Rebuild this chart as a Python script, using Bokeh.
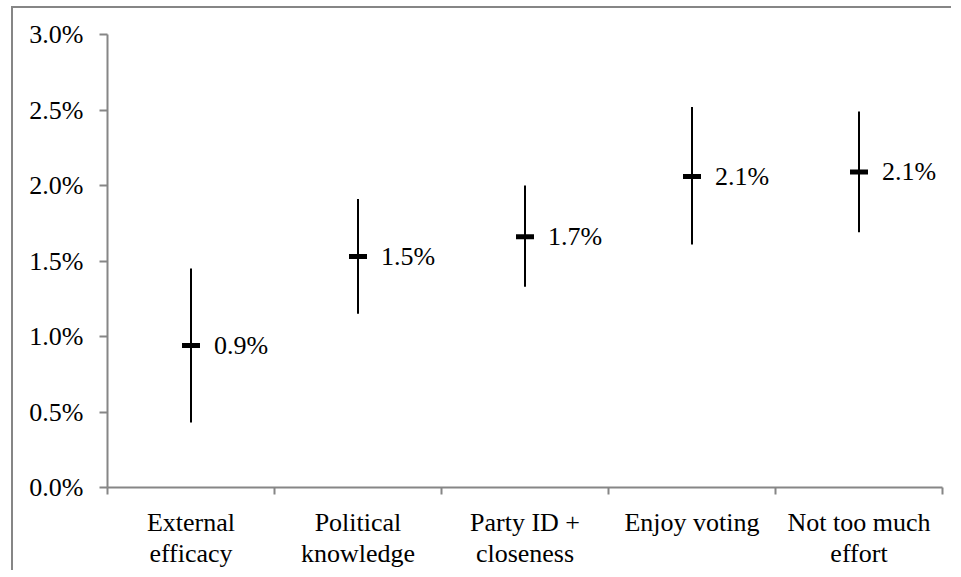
from bokeh.plotting import figure
from bokeh.models import FixedTicker, NumeralTickFormatter, Range1d, ColumnDataSource, LinearAxis
from bokeh.core.properties import value
from bokeh.embed import file_html
from bokeh.resources import INLINE

categories = ["External\nefficacy", "Political\nknowledge", "Party ID +\ncloseness", "Enjoy voting", "Not too much\neffort"]
means = [0.0094, 0.0153, 0.0166, 0.0206, 0.0209]
upper = [0.0145, 0.0191, 0.0200, 0.0252, 0.0249]
lower = [0.0043, 0.0115, 0.0133, 0.0161, 0.0169]
labels = ["0.9%", "1.5%", "1.7%", "2.1%", "2.1%"]
y_ticks = [0.0, 0.005, 0.01, 0.015, 0.02, 0.025, 0.03]

xs = [i + 0.5 for i in range(len(categories))]
src = ColumnDataSource(dict(x=xs, m=means, u=upper, l=lower, lab=labels))

FONT = "Liberation Serif"
AX = "#868686"

p = figure(width=940, height=564, output_backend="svg", toolbar_location=None,
           x_range=Range1d(0, len(categories)), y_range=Range1d(0, 0.03),
           x_axis_type=None, min_border_left=94, min_border_top=26,
           min_border_right=11, min_border_bottom=85)
p.styles = {"border-left": "2px solid #868686", "border-top": "2px solid #868686",
            "margin-left": "11px", "margin-top": "6px"}
p.outline_line_color = None
p.xgrid.visible = False
p.ygrid.visible = False
p.background_fill_color = "white"
p.border_fill_color = "white"

# y axis
ya = p.yaxis[0]
ya.ticker = FixedTicker(ticks=y_ticks)
ya.formatter = NumeralTickFormatter(format="0.0%")
ya.axis_line_color = AX
ya.axis_line_width = 2
ya.major_tick_line_color = AX
ya.major_tick_line_width = 2
ya.major_tick_out = 8
ya.major_tick_in = 0
ya.minor_tick_line_color = None
ya.major_label_text_font = FONT
ya.major_label_text_font_size = "26px"
ya.major_label_text_color = "black"
ya.major_label_standoff = 16

# x axis: labels at centers (major), ticks at boundaries (minor)
xa = LinearAxis(ticker=FixedTicker(ticks=xs, minor_ticks=list(range(len(categories) + 1))))
xa.major_label_overrides = {x: c for x, c in zip(xs, categories)}
xa.axis_line_color = AX
xa.axis_line_width = 2
xa.major_tick_line_color = None
xa.major_tick_out = 0
xa.major_tick_in = 0
xa.minor_tick_line_color = AX
xa.minor_tick_line_width = 2
xa.minor_tick_out = 7
xa.minor_tick_in = 0
xa.major_label_text_font = FONT
xa.major_label_text_font_size = "26px"
xa.major_label_text_color = "black"
xa.major_label_text_line_height = 1.1
xa.major_label_standoff = 13
xa.major_label_orientation = "horizontal"
p.add_layout(xa, "below")

p.segment(x0="x", y0="l", x1="x", y1="u", source=src, line_color="black", line_width=2)
p.rect(x="x", y="m", width=18, height=5, width_units="screen", height_units="screen",
       source=src, fill_color="black", line_color=None)
p.text(x="x", y="m", text="lab", source=src, x_offset=23, text_baseline="middle",
       text_font=value(FONT), text_font_size="26px", text_color="black")

open("out.html", "w").write(file_html(p, INLINE))
